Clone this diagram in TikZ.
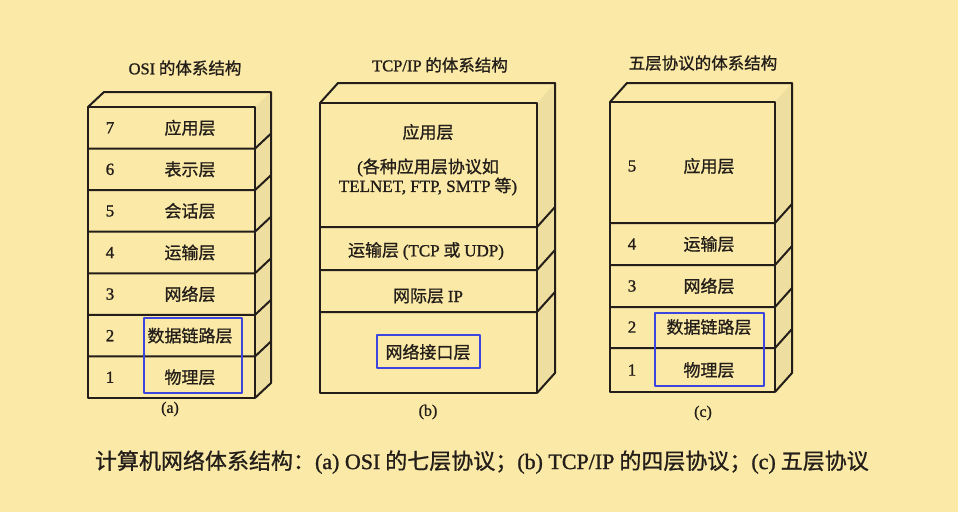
\documentclass[tikz,border=0pt]{standalone}
\usepackage{fontspec}
\setmainfont{Liberation Serif}[FakeBold=1.2]
\newfontfamily\cjk{Noto Sans CJK SC}[FakeBold=0.9]
\usepackage{tikz}
\definecolor{paper}{RGB}{250,233,167}
\definecolor{side}{RGB}{238,222,160}
\definecolor{ink}{RGB}{35,30,25}
\definecolor{mark}{RGB}{60,70,222}

\begin{document}
\begin{tikzpicture}[x=1pt,y=-1pt,line width=2pt,line join=round,
  every node/.style={text=ink,inner sep=1pt},
  layer/.style={font=\cjk\fontsize{17}{20}\selectfont},
  num/.style={font=\fontsize{17}{20}\selectfont},
  title/.style={font=\cjk\fontsize{16.5}{19}\selectfont},
  sub/.style={font=\fontsize{16}{18}\selectfont},
  hilite/.style={draw=mark,line width=2.4pt}]
\fill[paper] (0,0) rectangle (958,512);
\useasboundingbox (0,0) rectangle (958,512);

% (a) OSI, seven layers
\fill[side] (255,107) -- ++(16,-15) -- ++(0,291) -- (255,398) -- cycle;
\draw[ink] (88,107) rectangle (255,398);
\draw[ink] (88,107) -- ++(16,-15) -- ++(167,0) -- ++(0,291) -- (255,398);
\foreach \k in {1,...,6} \draw[ink] (88,107+41.57*\k) -- ++(167,0) -- ++(16,-15);
\foreach \t [count=\i] in {应用层,表示层,会话层,运输层,网络层,数据链路层,物理层} {
  \pgfmathsetmacro\yc{107+41.57*(\i-0.5)}
  \pgfmathtruncatemacro\n{8-\i}
  \node[num] (osin\n) at (110,\yc) {\n};
  \node[layer] (osi\n) at (190,\yc) {\t};
}
\node[title] (osit) at (185,68) {\textrm{OSI} 的体系结构};
\node[sub] (osis) at (170,409) {(a)};
\draw[hilite] (144,318) rectangle (242,393);

% (b) TCP/IP, four layers
\fill[side] (537,103) -- ++(18,-20) -- ++(0,290) -- (537,393) -- cycle;
\draw[ink] (320,103) rectangle (537,393);
\draw[ink] (320,103) -- ++(18,-20) -- ++(217,0) -- ++(0,290) -- (537,393);
\foreach \y in {227,270,312} \draw[ink] (320,\y) -- ++(217,0) -- ++(18,-20);
\node[layer] (tcp4) at (428,132) {应用层};
\node[layer,align=center] (tcp4x) at (428,177) {\textrm{(}各种应用层协议如\\[-1pt]\textrm{TELNET, FTP, SMTP} 等\textrm{)}};
\node[layer] (tcp3) at (426,251) {运输层 \textrm{(TCP} 或 \textrm{UDP)}};
\node[layer] (tcp2) at (428,296) {网际层 \textrm{IP}};
\node[layer] (tcp1) at (428,352) {网络接口层};
\node[title] (tcpt) at (440,65) {\textrm{TCP/IP} 的体系结构};
\node[sub] (tcps) at (428,412) {(b)};
\draw[hilite] (377,335) rectangle (480,368);

% (c) five layers
\fill[side] (775,102) -- ++(17,-19) -- ++(0,290) -- (775,392) -- cycle;
\draw[ink] (610,102) rectangle (775,392);
\draw[ink] (610,102) -- ++(17,-19) -- ++(165,0) -- ++(0,290) -- (775,392);
\foreach \y in {223,265,307,348} \draw[ink] (610,\y) -- ++(165,0) -- ++(17,-19);
\foreach \t/\n/\yc in {应用层/5/166,运输层/4/244,网络层/3/286,数据链路层/2/327,物理层/1/370} {
  \node[num] (fiven\n) at (632,\yc) {\n};
  \node[layer] (five\n) at (709,\yc) {\t};
}
\node[title] (fivet) at (703,63) {五层协议的体系结构};
\node[sub] (fives) at (703,413) {(c)};
\draw[hilite] (655,313) rectangle (764,386);

\node[anchor=west,font=\cjk\fontsize{22}{25}\selectfont] (cap) at (93,462)
  {计算机网络体系结构：\textrm{(a) OSI} 的七层协议；\textrm{(b) TCP/IP} 的四层协议；\textrm{(c)} 五层协议};
\end{tikzpicture}
\end{document}
